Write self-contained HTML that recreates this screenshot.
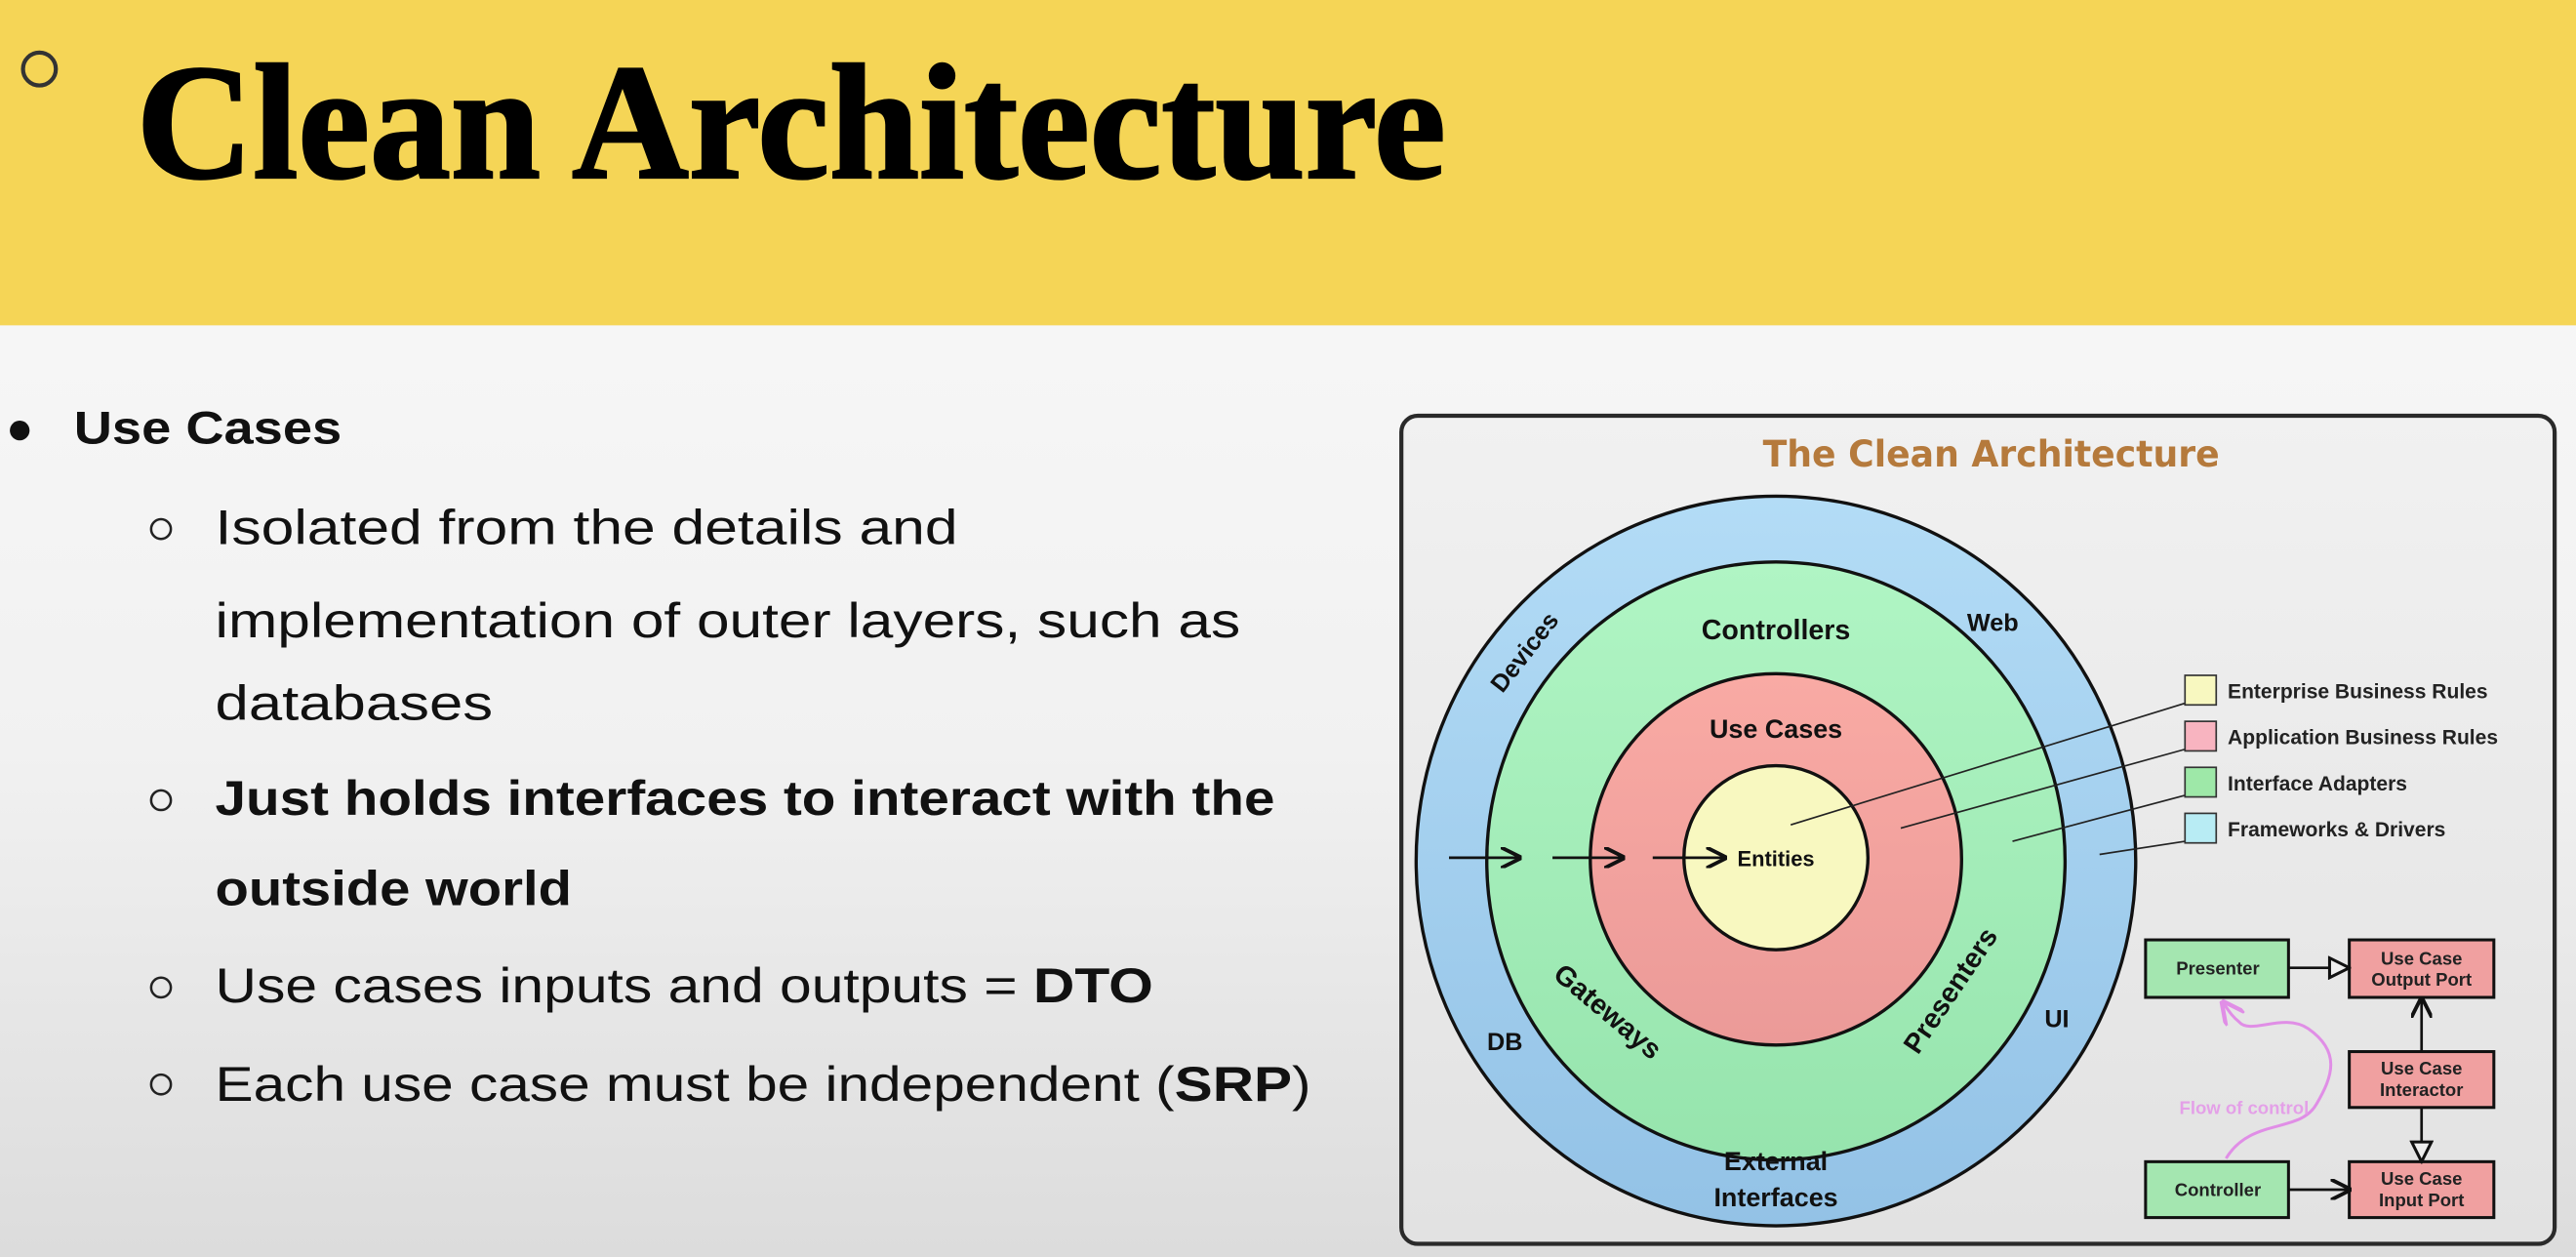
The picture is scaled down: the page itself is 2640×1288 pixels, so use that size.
<!DOCTYPE html>
<html><head><meta charset="utf-8"><style>
html,body{margin:0;padding:0;width:2640px;height:1288px;overflow:hidden;background:#eee}
svg{display:block}
</style></head><body>
<svg width="2640" height="1288" viewBox="0 0 1568 765" preserveAspectRatio="none" xmlns="http://www.w3.org/2000/svg">
<defs>
<linearGradient id="bg" x1="0" y1="0" x2="0" y2="1">
<stop offset="0" stop-color="#fafafa"/><stop offset="0.6" stop-color="#f1f1f1"/><stop offset="1" stop-color="#dcdcdc"/>
</linearGradient>
<linearGradient id="pn" x1="0" y1="0" x2="0" y2="1">
<stop offset="0" stop-color="#f1f1f1"/><stop offset="1" stop-color="#e2e2e2"/>
</linearGradient>
<linearGradient id="blue" x1="0" y1="0" x2="0" y2="1">
<stop offset="0" stop-color="#b3dcf6"/><stop offset="1" stop-color="#93c2e6"/>
</linearGradient>
<linearGradient id="green" x1="0" y1="0" x2="0" y2="1">
<stop offset="0" stop-color="#b0f5c4"/><stop offset="1" stop-color="#96e4ad"/>
</linearGradient>
<linearGradient id="pink" x1="0" y1="0" x2="0" y2="1">
<stop offset="0" stop-color="#f9aaa4"/><stop offset="1" stop-color="#eb9a98"/>
</linearGradient>
<marker id="ah" viewBox="0 0 10 10" refX="9" refY="5" markerWidth="8" markerHeight="8" orient="auto"><path d="M0,0 L10,5 L0,10" fill="none" stroke="#111" stroke-width="1.8"/></marker>
<marker id="tri" viewBox="0 0 12 12" refX="11" refY="6" markerWidth="9" markerHeight="9" orient="auto"><path d="M1,1 L11,6 L1,11 Z" fill="#eee" stroke="#111" stroke-width="1.5"/></marker>
<marker id="pk" viewBox="0 0 10 10" refX="9" refY="5" markerWidth="8" markerHeight="8" orient="auto"><path d="M0,0 L10,5 L0,10" fill="none" stroke="#e08ee6" stroke-width="1.8"/></marker>
</defs>
<rect x="0" y="0" width="1568" height="765" fill="url(#bg)"/>
<rect x="0" y="0" width="1568" height="198" fill="#f5d556"/>
<circle cx="24" cy="42" r="10" fill="none" stroke="#333" stroke-width="2.5"/>
<text x="83" y="108" font-family="Liberation Serif, serif" font-weight="bold" font-size="100" textLength="797" lengthAdjust="spacingAndGlyphs" fill="#000" stroke="#000" stroke-width="1.5">Clean Architecture</text>

<g font-family="Liberation Sans, sans-serif" fill="#111">
<circle cx="12" cy="262" r="6" fill="#111"/>
<text x="45" y="270" font-size="28" font-weight="bold" textLength="163" lengthAdjust="spacingAndGlyphs">Use Cases</text>
<g fill="none" stroke="#222" stroke-width="1.5">
<circle cx="98" cy="322" r="6"/><circle cx="98" cy="487" r="6"/><circle cx="98" cy="601" r="6"/><circle cx="98" cy="660" r="6"/>
</g>
<text x="131" y="331" font-size="30" textLength="452" lengthAdjust="spacingAndGlyphs">Isolated from the details and</text>
<text x="131" y="388" font-size="30" textLength="624" lengthAdjust="spacingAndGlyphs">implementation of outer layers, such as</text>
<text x="131" y="438" font-size="30" textLength="169" lengthAdjust="spacingAndGlyphs">databases</text>
<text x="131" y="496" font-size="30" font-weight="bold" textLength="645" lengthAdjust="spacingAndGlyphs">Just holds interfaces to interact with the</text>
<text x="131" y="551" font-size="30" font-weight="bold" textLength="217" lengthAdjust="spacingAndGlyphs">outside world</text>
<text x="131" y="610" font-size="30" textLength="571" lengthAdjust="spacingAndGlyphs">Use cases inputs and outputs = <tspan font-weight="bold">DTO</tspan></text>
<text x="131" y="670" font-size="30" textLength="667" lengthAdjust="spacingAndGlyphs">Each use case must be independent (<tspan font-weight="bold">SRP</tspan>)</text>
</g>

<rect x="853" y="253" width="702" height="504" rx="10" fill="url(#pn)" stroke="#2a2a2a" stroke-width="2.5"/>
<text x="1212" y="284" text-anchor="middle" font-family="DejaVu Sans, sans-serif" font-weight="bold" font-size="22" fill="#b57a3c" textLength="278" lengthAdjust="spacingAndGlyphs">The Clean Architecture</text>

<g stroke="#111" stroke-width="2">
<ellipse cx="1081" cy="524" rx="219" ry="222" fill="url(#blue)"/>
<ellipse cx="1081" cy="524" rx="176" ry="182" fill="url(#green)"/>
<ellipse cx="1081" cy="523" rx="113" ry="113" fill="url(#pink)"/>
<ellipse cx="1081" cy="522" rx="56" ry="56" fill="#f8f8c0"/>
</g>
<g stroke="#111" stroke-width="1.6" marker-end="url(#ah)">
<line x1="882" y1="522" x2="925" y2="522"/>
<line x1="945" y1="522" x2="988" y2="522"/>
<line x1="1006" y1="522" x2="1050" y2="522"/>
</g>
<g stroke="#222" stroke-width="1">
<line x1="1090" y1="502" x2="1330" y2="428"/>
<line x1="1157" y1="504" x2="1330" y2="456"/>
<line x1="1225" y1="512" x2="1330" y2="484"/>
<line x1="1278" y1="520" x2="1330" y2="512"/>
</g>
<g font-family="Liberation Sans, sans-serif" font-weight="bold" fill="#111" text-anchor="middle">
<text x="1081" y="389" font-size="17">Controllers</text>
<text x="1213" y="384" font-size="15">Web</text>
<text x="1081" y="449" font-size="16">Use Cases</text>
<text x="1081" y="527" font-size="13">Entities</text>
<text x="916" y="639" font-size="15">DB</text>
<text x="1252" y="625" font-size="15">UI</text>
<text x="1081" y="712" font-size="16">External</text>
<text x="1081" y="734" font-size="16">Interfaces</text>
<text transform="translate(932,400) rotate(-52)" font-size="15">Devices</text>
<text transform="translate(975,620) rotate(40)" font-size="17">Gateways</text>
<text transform="translate(1192,606) rotate(-56)" font-size="17">Presenters</text>
</g>
<g stroke="#333" stroke-width="1">
<rect x="1330" y="411" width="19" height="18" fill="#f8f8c0"/>
<rect x="1330" y="439" width="19" height="18" fill="#f8b4c0"/>
<rect x="1330" y="467" width="19" height="18" fill="#9ee8a8"/>
<rect x="1330" y="495" width="19" height="18" fill="#b8ecf4"/>
</g>
<g font-family="Liberation Sans, sans-serif" font-weight="bold" font-size="12.5" fill="#222">
<text x="1356" y="425">Enterprise Business Rules</text>
<text x="1356" y="453">Application Business Rules</text>
<text x="1356" y="481">Interface Adapters</text>
<text x="1356" y="509">Frameworks &amp; Drivers</text>
</g>

<g stroke="#111" stroke-width="1.8">
<rect x="1306" y="572" width="87" height="35" fill="#a4e6b0"/>
<rect x="1430" y="572" width="88" height="35" fill="#f0a0a0"/>
<rect x="1430" y="640" width="88" height="34" fill="#f0a0a0"/>
<rect x="1306" y="707" width="87" height="34" fill="#a4e6b0"/>
<rect x="1430" y="707" width="88" height="34" fill="#f0a0a0"/>
</g>
<g stroke="#111" stroke-width="1.6">
<line x1="1393" y1="589" x2="1430" y2="589" marker-end="url(#tri)"/>
<line x1="1474" y1="640" x2="1474" y2="608" marker-end="url(#ah)"/>
<line x1="1474" y1="674" x2="1474" y2="707" marker-end="url(#tri)"/>
<line x1="1393" y1="724" x2="1430" y2="724" marker-end="url(#ah)"/>
</g>
<path d="M1355,705 C1370,680 1400,690 1410,672 C1420,655 1425,640 1405,626 C1390,616 1370,630 1363,622 C1358,618 1356,614 1353,610" fill="none" stroke="#e08ee6" stroke-width="1.8" marker-end="url(#pk)"/>
<g font-family="Liberation Sans, sans-serif" font-weight="bold" fill="#222" text-anchor="middle" font-size="11">
<text x="1350" y="593">Presenter</text>
<text x="1474" y="587">Use Case</text><text x="1474" y="600">Output Port</text>
<text x="1474" y="654">Use Case</text><text x="1474" y="667">Interactor</text>
<text x="1350" y="728">Controller</text>
<text x="1474" y="721">Use Case</text><text x="1474" y="734">Input Port</text>
<text x="1366" y="678" fill="#e4a0e8" font-size="11">Flow of control</text>
</g>
</svg>
</body></html>
